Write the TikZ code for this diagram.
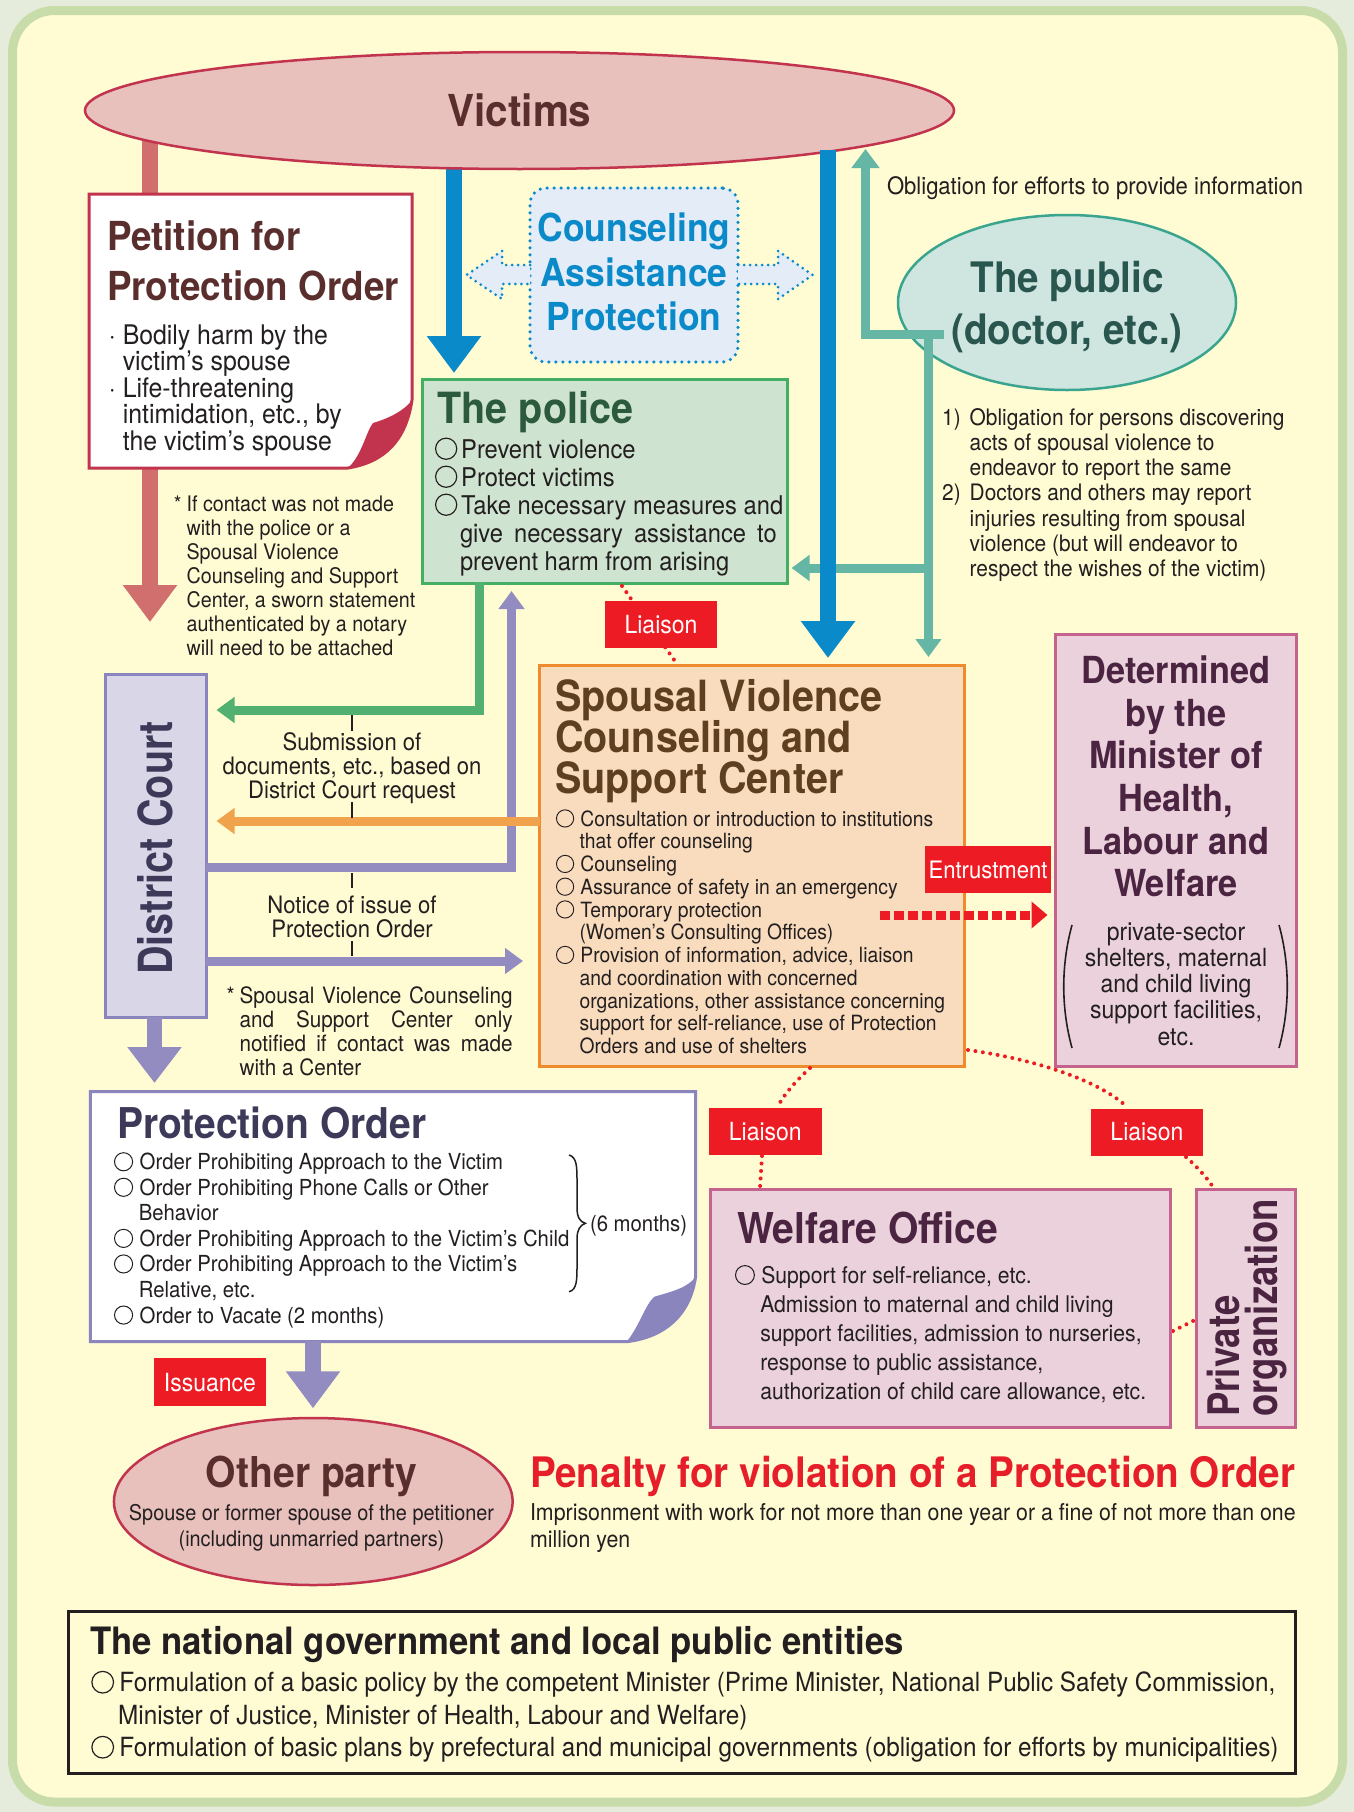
\documentclass[tikz,border=0pt]{standalone}
\usepackage{fontspec}
\setmainfont{TeX Gyre Heros}[FakeStretch=0.92]
\newfontfamily\condb{TeX Gyre Heros}[FakeStretch=0.84]
\usetikzlibrary{arrows.meta,shapes.geometric}
\definecolor{bgout}{HTML}{E6ECDC}
\definecolor{frameg}{HTML}{C8DCAA}
\definecolor{paper}{HTML}{FFFBD3}
\definecolor{vicfill}{HTML}{E8C1BD}
\definecolor{vicline}{HTML}{C2334D}
\definecolor{victext}{HTML}{5B2E2E}
\definecolor{petarr}{HTML}{D16E6E}
\definecolor{blue1}{HTML}{0A8AC9}
\definecolor{lblue}{HTML}{E4ECF7}
\definecolor{polfill}{HTML}{CFE4D0}
\definecolor{polline}{HTML}{45AE65}
\definecolor{poltext}{HTML}{2C5A3C}
\definecolor{pubfill}{HTML}{CFE5DF}
\definecolor{publine}{HTML}{3AA58E}
\definecolor{pubtext}{HTML}{2A5650}
\definecolor{teal1}{HTML}{66B6A6}
\definecolor{green1}{HTML}{52B070}
\definecolor{lav}{HTML}{928CC0}
\definecolor{dcfill}{HTML}{D9D6E8}
\definecolor{dcline}{HTML}{8A85BD}
\definecolor{dctext}{HTML}{3C3A58}
\definecolor{orange1}{HTML}{F0A24C}
\definecolor{spfill}{HTML}{F9DCBD}
\definecolor{spline}{HTML}{EE8B2C}
\definecolor{sptext}{HTML}{5E4020}
\definecolor{red1}{HTML}{ED1C24}
\definecolor{pkfill}{HTML}{EBD1DB}
\definecolor{pkline}{HTML}{C4648E}
\definecolor{pktext}{HTML}{4A2440}
\definecolor{ink}{HTML}{231F20}
\definecolor{penred}{HTML}{E61E2A}
\newcommand\fsl[2]{\fontsize{#1}{#2}\selectfont}
\newcommand\txtL[1]{\vtop{\lineskiplimit=-100pt\lineskip=0pt\halign{##\hfil\cr#1\crcr}}}
\newcommand\txtC[1]{\vtop{\lineskiplimit=-100pt\lineskip=0pt\halign{\hfil##\hfil\cr#1\crcr}}}
\newcommand\bul[1][0.2em]{\tikz[baseline=0pt]\draw[line width=0.045em](0.41em,0.36em) circle[radius=0.41em];\hspace{#1}}
\newcommand\bind[1][0.2em]{\hspace{0.82em}\hspace{#1}}
\begin{document}
\begin{tikzpicture}[x=1pt,y=-1pt,
  txt/.style={inner sep=0pt,outer sep=0pt,text=ink},
  lab/.style={fill=red1,text=white,inner sep=0pt,font=\fsl{25}{25},minimum width=112.5pt,minimum height=47pt},
  fat/.style={line width=16pt,-{Triangle[length=37pt,width=52pt]}},
  slim/.style={line width=9pt,-{Triangle[length=18pt,width=25pt]}},
  reddots/.style={red1,line width=4pt,line cap=round,dash pattern=on 0pt off 7.5pt},
  tick/.style={ink,line width=2pt},
  rbox/.style={line width=3pt,inner sep=0pt}
]
\useasboundingbox (0,0) rectangle (1354,1812);
\fill[bgout] (0,0) rectangle (1354,1812);
\draw[frameg,line width=9pt,fill=paper,rounded corners=42pt] (12.5,10.5) rectangle (1342.5,1802);

% petition arrow
\draw[petarr,fat] (150,140) -- (150,622);
% blue arrows
\draw[blue1,fat] (454,150) -- (454,373);

% victims
\node[ellipse,draw=vicline,fill=vicfill,line width=2.5pt,minimum width=869pt,minimum height=117pt,inner sep=0pt] (victims) at (519.5,110.5) {};
\node[txt,text=victext,font=\fsl{44}{44}\bfseries] (victt) at (victims.center) {Victims};

% petition box
\draw[vicline,line width=3pt,fill=white] (89,194) -- (412,194) -- (412,400) .. controls (406,440) and (385,462) .. (348,468) -- (89,468) -- cycle;
\fill[vicline] (412,400) .. controls (406,440) and (385,462) .. (348,468) .. controls (362,455) and (366,432) .. (373,423) .. controls (390,418) and (405,410) .. (412,400) -- cycle;
\node[txt,text=victext,font=\fsl{40}{50}\bfseries,anchor=base west] (pettitle) at (107,250) {\txtL{Petition for\cr Protection Order}};
\node[txt,font=\fsl{27}{26.6},anchor=base west] (petlist) at (122.8,344) {\txtL{\llap{·\kern 7pt}Bodily harm by the\cr victim’s spouse\cr \llap{·\kern 7pt}Life-threatening\cr intimidation, etc., by\cr the victim’s spouse}};
\node[txt,font=\fsl{21.4}{24},anchor=base west] (petnote) at (186.6,511.7) {\txtL{\llap{*\kern 5pt}If contact was not made\cr with the police or a\cr Spousal Violence\cr Counseling and Support\cr Center, a sworn statement\cr authenticated by a notary\cr will need to be attached}};

% counseling box
\node[draw=blue1,fill=lblue,line width=3.5pt,dash pattern=on 0pt off 7pt,line cap=round,rounded corners=16pt,minimum width=208pt,minimum height=174pt,inner sep=0pt] (cap) at (634,275) {};
\node[txt,text=blue1,font=\fsl{38.5}{44.5}\bfseries,anchor=base] (captext) at (634,241.5) {\txtC{Counseling\cr Assistance\cr Protection}};
\draw[blue1,fill=lblue,line width=3pt,line cap=round,line join=round,dash pattern=on 0pt off 6pt] (530,265) -- (502,265) -- (502,251) -- (466.5,275) -- (502,299) -- (502,284) -- (530,284);
\draw[blue1,fill=lblue,line width=3pt,line cap=round,line join=round,dash pattern=on 0pt off 6pt] (738,265) -- (778,265) -- (778,251) -- (812.5,275) -- (778,299) -- (778,284) -- (738,284);

% public
\node[ellipse,draw=publine,fill=pubfill,line width=2.5pt,minimum width=338pt,minimum height=175pt,inner sep=0pt] (public) at (1067,302.5) {};
\draw[teal1,line width=9pt,-{Triangle[length=19pt,width=27pt]}] (944,334) -- (865.5,334) -- (865.5,149);
\draw[teal1,slim] (928.5,330) -- (928.5,657);
\draw[teal1,slim] (928.5,568) -- (791.5,568);
\draw[blue1,fat] (828,150) -- (828,658);
\node[txt,text=pubtext,font=\fsl{42}{52}\bfseries,anchor=base] (pubt) at (1067,292) {\txtC{The public\cr (doctor, etc.)}};
\node[txt,font=\fsl{24}{24},anchor=base west] (oblig) at (887,194) {Obligation for efforts to provide information};
\node[txt,font=\fsl{22.7}{25.3},anchor=base west] (publist) at (969.7,425) {\txtL{\llap{1)\kern 9pt}Obligation for persons discovering\cr acts of spousal violence to\cr endeavor to report the same\cr \llap{2)\kern 9pt}Doctors and others may report\cr injuries resulting from spousal\cr violence (but will endeavor to\cr respect the wishes of the victim)}};

% police
\node[draw=polline,fill=polfill,rbox,minimum width=365pt,minimum height=204pt] (police) at (604.5,481) {};
\node[txt,text=poltext,font=\fsl{43}{43}\bfseries,anchor=base west] (poltitle) at (437.5,423) {The police};
\node[txt,font=\fsl{25.8}{28},anchor=base west] (pollist) at (435,458) {\txtL{\bul[0.15em]Prevent violence\cr \bul[0.15em]Protect victims\cr \bul[0.15em]Take necessary measures and\cr \bind[0.15em]\hbox to 316.7pt{give\hfill necessary\hfill assistance\hfill to}\cr \bind[0.15em]prevent harm from arising}};

% liaison 1
\draw[reddots] (622,586) -- (677,664);
\node[lab] (liaison1) at (661,624.5) {Liaison};

% spousal center
\node[draw=spline,fill=spfill,rbox,minimum width=424.5pt,minimum height=401pt] (svc) at (751.75,865.5) {};
\node[txt,text=sptext,font=\fsl{43}{41}\bfseries,anchor=base west] (svctitle) at (555,711.7) {\txtL{Spousal Violence\cr Counseling and\cr Support Center}};
\node[txt,font=\fsl{21}{22.75},anchor=base west] (svclist) at (556,826) {\txtL{\bul[0.3em]Consultation or introduction to institutions\cr \bind[0.3em]that offer counseling\cr \bul[0.3em]Counseling\cr \bul[0.3em]Assurance of safety in an emergency\cr \bul[0.3em]Temporary protection\cr \bind[0.3em](Women’s Consulting Offices)\cr \bul[0.3em]Provision of information, advice, liaison\cr \bind[0.3em]and coordination with concerned\cr \bind[0.3em]organizations, other assistance concerning\cr \bind[0.3em]support for self-reliance, use of Protection\cr \bind[0.3em]Orders and use of shelters}};

% MHLW
\node[draw=pkline,fill=pkfill,rbox,minimum width=240.4pt,minimum height=432pt] (mhlw) at (1175.8,850) {};
\node[txt,text=pktext,font=\fsl{37.3}{42.7}\bfseries,anchor=base] (mhlwtitle) at (1176,683.3) {\txtC{Determined\cr by the\cr Minister of\cr Health,\cr Labour and\cr Welfare}};
\node[txt,font=\fsl{25}{26.3},anchor=base] (mhlwsub) at (1176,940) {\txtC{private-sector\cr shelters, maternal\cr and child living\cr support facilities,\cr etc.}};
\draw[ink,line width=1.6pt] (1072,925) .. controls (1061,965) and (1061,1008) .. (1072,1048);
\draw[ink,line width=1.6pt] (1279,925) .. controls (1290,965) and (1290,1008) .. (1279,1048);

% entrustment
\draw[red1,line width=9pt,dash pattern=on 10pt off 4pt,-{Triangle[length=16pt,width=26pt]}] (880,915) -- (1047.5,915);
\node[lab,font=\fsl{24}{24},minimum width=126.4pt,minimum height=47.3pt] (entrust) at (988,869.7) {Entrustment};

% district court
\node[draw=dcline,fill=dcfill,rbox,minimum width=101pt,minimum height=343pt] (court) at (155.5,845.5) {};
\node[txt,text=dctext,font=\fsl{47}{47}\condb\bfseries,rotate=90] (courttext) at (155.7,848) {District Court};

% arrows between court and others
\draw[green1,slim] (479,582) -- (479,710) -- (216.5,710);
\draw[lav,slim] (206,867) -- (511.5,867) -- (511.5,591);
\draw[orange1,slim] (539.5,821) -- (216.5,821);
\draw[lav,slim] (206,961) -- (523,961);
\draw[tick] (352,715) -- (352,731);
\draw[tick] (352,802) -- (352,818);
\draw[tick] (352,873) -- (352,888);
\draw[tick] (352,941) -- (352,956);
\node[txt,font=\fsl{24}{24.3},anchor=base] (sublab) at (352,750) {\txtC{Submission of\cr documents, etc., based on\cr District Court request}};
\node[txt,font=\fsl{24}{24},anchor=base] (notlab) at (352,913.5) {\txtC{Notice of issue of\cr Protection Order}};
\node[txt,font=\fsl{22.5}{24},anchor=base west] (svcnote) at (239.6,1003) {\txtL{\llap{*\kern 5pt}\hbox to 273pt{Spousal\hfill Violence\hfill Counseling}\cr \hbox to 273pt{and\hfill Support\hfill Center\hfill only}\cr \hbox to 273pt{notified\hfill if\hfill contact\hfill was\hfill made}\cr with a Center}};

\draw[lav,line width=15pt,-{Triangle[length=36pt,width=52pt]}] (154.5,1017) -- (154.5,1083);

% protection order
\draw[dcline,line width=3pt,fill=white] (90.4,1091.7) -- (695.6,1091.7) -- (695.6,1276.7) .. controls (690,1315) and (665,1337) .. (626.7,1341.7) -- (90.4,1341.7) -- cycle;
\fill[dcline] (695.6,1276.7) .. controls (690,1315) and (665,1337) .. (626.7,1341.7) .. controls (640,1325) and (645,1305) .. (654.3,1296.7) .. controls (670,1292) and (688,1288) .. (695.6,1276.7) -- cycle;
\node[txt,text=dctext,font=\fsl{42.4}{42.4}\bfseries,anchor=base west] (potitle) at (117,1138.3) {Protection Order};
\node[txt,font=\fsl{22.1}{25.55},anchor=base west] (polist) at (114,1169.7) {\txtL{\bul[0.3em]Order Prohibiting Approach to the Victim\cr \bul[0.3em]Order Prohibiting Phone Calls or Other\cr \bind[0.3em]Behavior\cr \bul[0.3em]Order Prohibiting Approach to the Victim’s Child\cr \bul[0.3em]Order Prohibiting Approach to the Victim’s\cr \bind[0.3em]Relative, etc.\cr \bul[0.3em]Order to Vacate (2 months)}};
\draw[ink,line width=1.5pt] (569,1155) .. controls (577,1157) and (577,1168) .. (577,1180) -- (577,1208) .. controls (577,1217) and (580,1222) .. (585.4,1223.3) .. controls (580,1225) and (577,1230) .. (577,1239) -- (577,1267) .. controls (577,1279) and (577,1290) .. (569,1291.7);
\node[txt,font=\fsl{22.1}{22.1},anchor=base west] (sixm) at (590,1231) {(6 months)};

% issuance
\node[lab,minimum height=47.7pt] (issuance) at (210,1382.2) {Issuance};
\draw[lav,fat] (313,1341) -- (313,1408.3);

% other party
\node[ellipse,draw=vicline,fill=vicfill,line width=2.5pt,minimum width=398.7pt,minimum height=167pt,inner sep=0pt] (other) at (313.3,1501.5) {};
\node[txt,text=victext,font=\fsl{42.5}{42.5}\bfseries,anchor=base] (othertitle) at (311.7,1487) {Other party};
\node[txt,font=\fsl{21.6}{26},anchor=base] (othersub) at (311.5,1520.7) {\txtC{Spouse or former spouse of the petitioner\cr (including unmarried partners)}};

% penalty
\node[txt,text=penred,font=\fsl{42}{42}\bfseries,anchor=base west] (penalty) at (530,1487) {Penalty for violation of a Protection Order};
\node[txt,font=\fsl{23.2}{27},anchor=base west] (pensub) at (530,1520.4) {\txtL{Imprisonment with work for not more than one year or a fine of not more than one\cr million yen}};

% liaison 2, 3
\draw[reddots] (810,1068) .. controls (797,1080) and (785,1093) .. (778,1106);
\draw[reddots] (762,1156) -- (760,1188);
\draw[reddots] (968,1050) .. controls (1040,1060) and (1100,1082) .. (1126,1106);
\draw[reddots] (1186,1157) .. controls (1195,1165) and (1205,1175) .. (1213,1187);
\draw[reddots] (1173,1331) -- (1195,1320);
\node[lab] (liaison2) at (765.3,1131.7) {Liaison};
\node[lab] (liaison3) at (1146.9,1132) {Liaison};

% welfare office
\node[draw=pkline,fill=pkfill,rbox,minimum width=460pt,minimum height=238.4pt] (welfare) at (940,1308.5) {};
\node[txt,text=pktext,font=\fsl{42.5}{42.5}\bfseries,anchor=base west] (welftitle) at (737,1243) {Welfare Office};
\node[txt,font=\fsl{23}{29},anchor=base west] (welflist) at (735,1283.3) {\txtL{\bul[0.28em]Support for self-reliance, etc.\cr \bind[0.28em]Admission to maternal and child living\cr \bind[0.28em]support facilities, admission to nurseries,\cr \bind[0.28em]response to public assistance,\cr \bind[0.28em]authorization of child care allowance, etc.}};

% private organization
\node[draw=pkline,fill=pkfill,rbox,minimum width=99.6pt,minimum height=238.4pt] (private) at (1245.8,1308.5) {};
\node[txt,text=pktext,font=\fsl{43.5}{43.5}\condb\bfseries,rotate=90,anchor=base west] (privt1) at (1239,1416.7) {Private};
\node[txt,text=pktext,font=\fsl{43.5}{43.5}\condb\bfseries,rotate=90,anchor=base west] (privt2) at (1277.6,1416.7) {organization};

% national government
\node[draw=ink,line width=3pt,inner sep=0pt,minimum width=1227pt,minimum height=161.4pt] (natgov) at (681.5,1692.3) {};
\node[txt,font=\fsl{37.7}{37.7}\bfseries,anchor=base west] (nattitle) at (90,1654) {The national government and local public entities};
\node[txt,font=\fsl{26.4}{32.5},anchor=base west] (natlist) at (91.3,1691.7) {\txtL{\bul[0.2em]Formulation of a basic policy by the competent Minister (Prime Minister, National Public Safety Commission,\cr \bind[0.2em]Minister of Justice, Minister of Health, Labour and Welfare)\cr \bul[0.2em]Formulation of basic plans by prefectural and municipal governments (obligation for efforts by municipalities)}};
\end{tikzpicture}
\end{document}
